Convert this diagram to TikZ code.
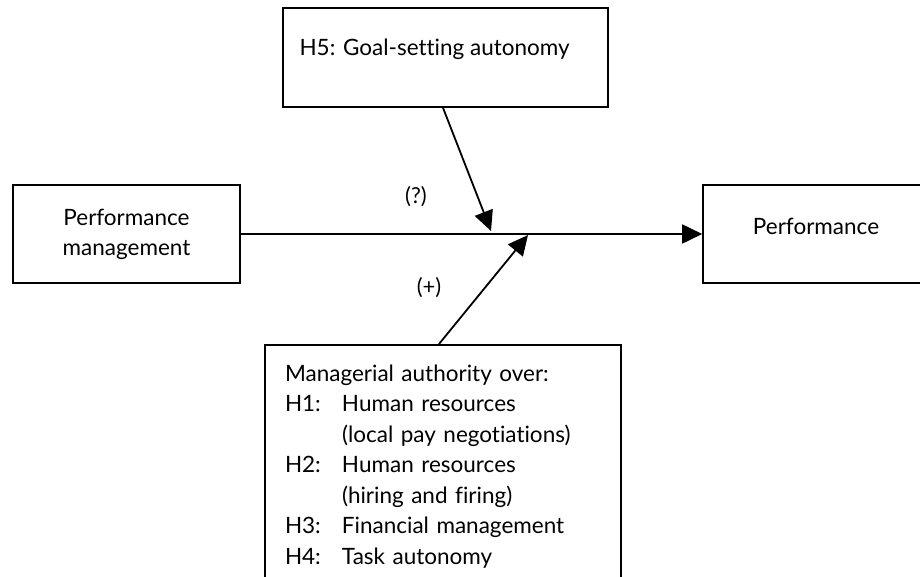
\documentclass[tikz,border=0pt]{standalone}
\usepackage{fontspec}
\setmainfont{Lato}[Ligatures={NoCommon}]
\usetikzlibrary{arrows.meta}
\begin{document}
\begin{tikzpicture}[x=1pt,y=-1pt,
  box/.style={draw=black,line width=1.6pt,rectangle,inner sep=0pt},
  conn/.style={line width=1.8pt,-{Triangle[length=20pt,width=19pt]}},
  txt/.style={font=\fontsize{22.5}{30}\selectfont},
  lbl/.style={font=\fontsize{22}{26}\selectfont}]
\clip (0,0) rectangle (920,577);
\fill[white] (0,0) rectangle (920,577);
% boxes
\node[box,minimum width=325pt,minimum height=99pt] (h5) at (445.5,57.5) {};
\node[txt,anchor=base west] (h5t) at (296,56) {H5: Goal-setting autonomy};
\node[box,txt,minimum width=227pt,minimum height=98pt,align=center] (pm) at (126.5,234) {Performance\\management};
\node[box,txt,minimum width=226pt,minimum height=98pt,text depth=16pt] (perf) at (816,234) {Performance};
\node[box,minimum width=356pt,minimum height=244pt,anchor=north,inner xsep=20pt,inner ysep=6pt,align=left,text width=316pt,font=\fontsize{22.5}{30.5}\selectfont] (ma) at (443,344) {%
\begin{tabular}{@{}p{57pt}@{}l@{}}
\multicolumn{2}{@{}l@{}}{Managerial authority over:}\\
H1: & Human resources\\
 & (local pay negotiations)\\
H2: & Human resources\\
 & (hiring and firing)\\
H3: & Financial management\\
H4: & Task autonomy
\end{tabular}};
% connectors
\coordinate (tipA) at (491,231);
\coordinate (tipB) at (528,235);
\draw[conn] (pm.east) -- (perf.west);
\draw[conn] (h5.south -| 443,0) -- (tipA);
\draw[conn] (ma.north -| 439,0) -- (tipB);
% labels
\node[lbl] (q) at (416,197) {(?)};
\node[lbl] (p) at (429,288) {(+)};
\end{tikzpicture}
\end{document}
